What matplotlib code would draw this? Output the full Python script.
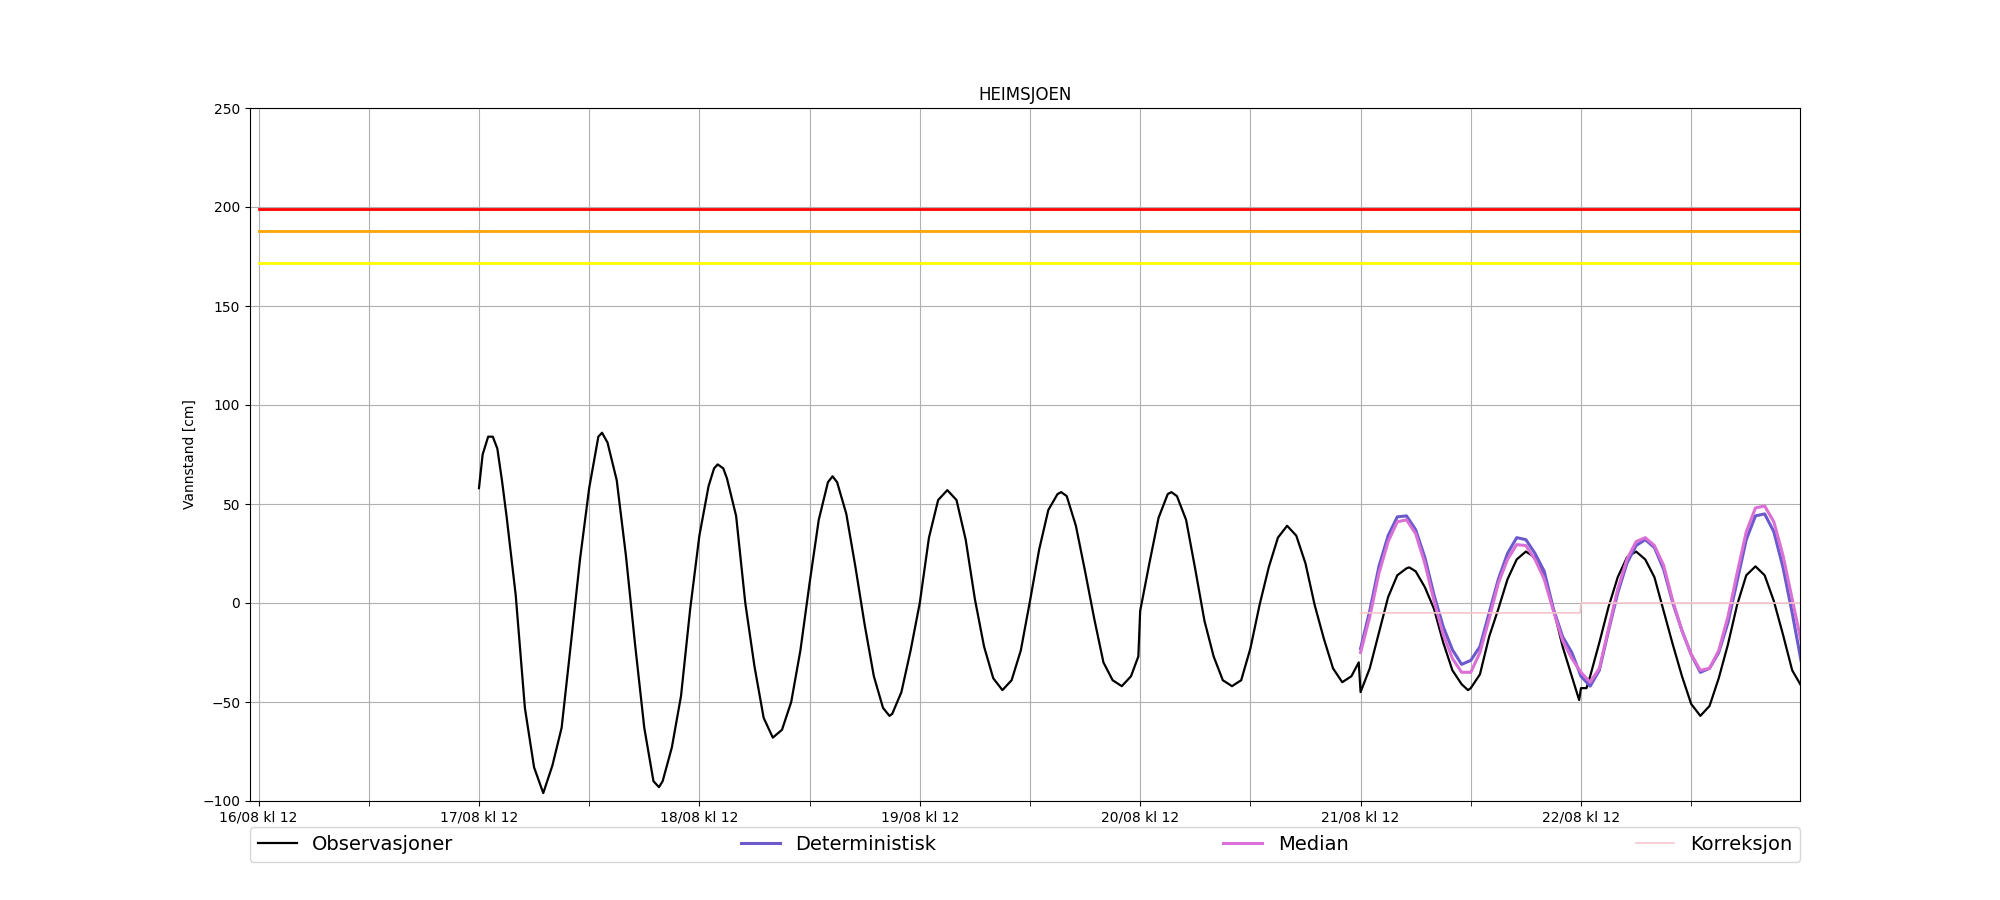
import datetime as dt
import matplotlib
matplotlib.use("Agg")
import matplotlib.pyplot as plt
import matplotlib.dates as mdates

station = "HEIMSJOEN"

# hourly values, hour 0 = 17/08 kl 12
obs_start = dt.datetime(2024, 8, 17, 12)
obs_cm = [
    58, 84, 78, 44, 4, -53, -83, -96, -82, -63, -21, 22, 58, 84, 81, 62, 24, -21, -63, -90, -90, -73, -47, -3,
    34, 59, 70, 63, 44, 0, -32, -58, -68, -64, -50, -24, 10, 42, 61, 61, 45, 18, -11, -37, -53, -56, -45, -24,
    0, 33, 52, 57, 52, 32, 2, -22, -38, -44, -39, -24, 1, 27, 47, 55, 54, 39, 16, -8, -30, -39, -42, -37,
    -4, 20, 43, 55, 54, 42, 17, -9, -27, -39, -42, -39, -23, -1, 18, 33, 39, 34, 20, -1, -18, -33, -40, -37,
    -45, -33, -15, 3, 14, 17.5, 16, 8, -3, -20, -34, -41, -43, -36, -17, -3, 12, 22, 26, 23, 13, -3, -22, -37,
    -43, -37, -20, -2, 13, 23, 26, 22, 13, -4, -21, -37, -51, -57, -52, -38, -21, -1, 14, 18.5, 14, 1, -16, -34,
    -42,
]
# extra readings near turning points and jumps (hour, cm)
obs_extra = [
    (0.4, 75), (1.5, 84), (2.5, 62), (13.4, 86), (19.6, -93), (25.6, 68), (26.6, 68),
    (38.5, 64), (44.7, -57), (63.4, 56), (71.8, -27), (75.4, 56), (95.8, -30),
    (101.3, 18), (107.7, -44), (119.8, -49), (120.6, -43),
]

# forecasts, hour 0 = 21/08 kl 12
fc_start = dt.datetime(2024, 8, 21, 12)
det_cm = [
    -23, -4, 18.5, 34, 43.5, 44, 37, 23, 4, -12, -23.6, -31, -29, -22, -5, 12, 25, 33, 32, 25,
    16, -3, -17, -25, -37, -42, -34, -14, 5, 20, 29, 32, 28, 17, 0, -14, -26, -35, -33, -25,
    -10, 11, 32, 44, 45, 36, 18, -5, -30,
]
median_cm = [
    -25, -7, 15, 31, 41, 42, 35, 20, 1, -16, -28, -35, -35, -25, -8, 10, 22, 29.5, 29, 22,
    12, -4, -19, -28, -35, -40, -33, -13, 7, 22, 31, 33, 29, 19, 1, -14, -26, -34, -33, -24,
    -7, 15, 36, 48, 49, 41, 24, 2, -20,
]
korr_hours = [0, 23.9, 24, 48]
korr_cm = [-5, -5, 0, 0]

# warning levels
levels = [199, 188, 171.5]
level_colors = ["red", "orange", "yellow"]
level_start = dt.datetime(2024, 8, 16, 12)
level_end = dt.datetime(2024, 8, 23, 12)

obs_pts = sorted([(h, v) for h, v in enumerate(obs_cm)] + obs_extra)
obs_t = [obs_start + dt.timedelta(hours=h) for h, _ in obs_pts]
obs_v = [v for _, v in obs_pts]
fc_t = [fc_start + dt.timedelta(hours=h) for h in range(len(det_cm))]
korr_t = [fc_start + dt.timedelta(hours=h) for h in korr_hours]

fig, ax = plt.subplots(figsize=(20, 9), dpi=100)

for lev, col in zip(levels, level_colors):
    ax.plot([level_start, level_end], [lev, lev], color=col, lw=2)

ax.plot(obs_t, obs_v, color="black", lw=1.6, label="Observasjoner")
ax.plot(fc_t, det_cm, color="slateblue", lw=2.2, label="Deterministisk")
ax.plot(fc_t, median_cm, color="orchid", lw=2.2, label="Median")
ax.plot(korr_t, korr_cm, color="#f4c7cc", lw=1.2, label="Korreksjon")

ax.set_xlim(dt.datetime(2024, 8, 16, 11, 4), dt.datetime(2024, 8, 23, 11, 51))
ax.set_ylim(-100, 250)
ax.set_yticks(range(-100, 251, 50))

ax.xaxis.set_major_locator(mdates.HourLocator(byhour=[12]))
ax.xaxis.set_minor_locator(mdates.HourLocator(byhour=[0]))
ax.xaxis.set_major_formatter(mdates.DateFormatter("%d/%m kl %H"))
ax.tick_params(axis="x", which="minor", length=3.5)
ax.grid(True, which="both", axis="x")
ax.grid(True, which="major", axis="y")

ax.set_title(station)
ax.set_ylabel("Vannstand [cm]")

ax.legend(loc="upper left", bbox_to_anchor=(0, -0.0375, 1, 0), mode="expand",
          ncol=4, fontsize=14, borderaxespad=0)

fig.savefig("out.png")
